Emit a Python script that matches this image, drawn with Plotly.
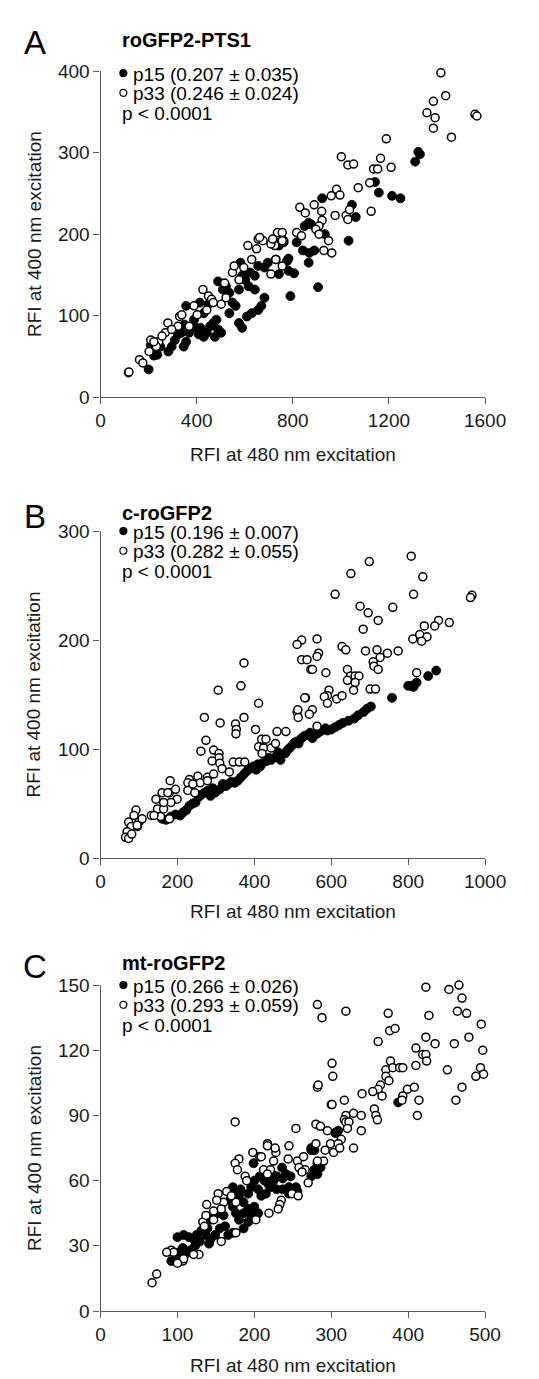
import plotly.graph_objects as go

W, H = 539, 1379

# ---------------- Panel A: roGFP2-PTS1 ----------------
A_p15 = [(1322,301),(1329,298),(1309,289),(1142,264),(1158,251),(1213,247),(1248,244),(922,244),(1046,236),(1062,221),
         (1032,192),(849,210),(866,214),(876,212),(933,200),(816,190),(842,180),(869,177),(889,180),(782,170),(736,190),
         (866,165),(905,135),(790,124),(805,152),
         (200,34),(222,51),(236,52),(209,64),(249,62),(282,56),(296,62),(309,70),(346,62),(356,68),(336,79),(349,89),
         (356,112),(389,95),(409,77),(416,85),(429,74),(442,79),(456,87),(469,91),(482,95),(489,83),(502,79),(476,74),
         (413,116),(429,103),(449,114),(489,142),(509,132),(522,136),(536,128),(549,116),(562,112),(536,103),(576,132),
         (589,149),(582,165),(602,144),(622,153),(642,149),(656,161),(616,136),(642,132),(682,122),(576,91),(589,85),
         (609,99),(629,103),(656,107),(669,112),(682,159),(696,165),(742,186),(762,190),(776,167),(782,155),(742,151),
         (322,77),(369,79),(396,85)]
A_p33 = [(1416,398),(1436,370),(1385,363),(1358,349),(1392,343),(1385,330),(1460,319),(1558,347),(1566,345),(1189,317),
         (1002,295),(1029,285),(1053,286),(1165,293),(1209,282),(1136,280),(1153,280),(1120,263),(1072,257),(982,255),
         (996,248),(960,247),(1126,228),(829,233),(852,226),(889,236),(920,228),(976,223),(1022,223),(1036,230),
         (1029,218),(922,217),(909,210),(896,206),(909,200),(949,192),(962,177),(929,180),(816,202),(836,198),(736,202),
         (756,202),(762,192),(725,186),(729,169),
         (116,30),(118,31),(162,46),(176,42),(202,56),(209,70),(242,68),(232,62),(280,91),(269,79),(329,99),(338,101),
         (369,87),(426,132),(449,124),(462,120),(442,107),(502,114),(522,122),(516,140),(549,153),(556,161),(576,144),
         (596,159),(613,186),(629,169),(649,182),(656,194),(676,192),(662,196),(709,188),(716,194),(756,192),(729,169),
         (709,151),(756,161),(322,87),(296,83),(256,75),(222,68),(389,112),(402,101),(469,116)]

# ---------------- Panel B: c-roGFP2 ----------------
B_p15 = [(160,36),(170,35),(183,38),(195,40),(207,39),(215,42),(223,44),(231,48),(240,50),(247,51),(255,56),(262,58),
         (270,60),(280,62),(286,57),(292,64),(298,60),(310,63),(318,68),(326,66),(333,68),(340,70),(349,69),(357,71),
         (365,74),(373,77),(381,80),(390,82),(397,84),(405,81),(409,86),(415,84),(421,87),(432,89),(438,92),(444,90),
         (456,93),(462,97),(468,95),(468,90),(480,96),(486,99),(492,101),(500,104),(505,106),(511,107),(515,105),
         (523,110),(530,112),(539,113),(545,115),(551,110),(563,114),(570,116),(575,117),(585,119),(590,117),(600,118),
         (610,120),(620,122),(630,124),(645,126),(660,128),(670,131),(684,134),(693,137),(703,139),(758,147),(800,158),
         (808,158),(814,157),(822,161),(852,167),(873,172)]
B_p33 = [(808,277),(699,272),(651,261),(838,258),(814,242),(610,242),(966,241),(962,239),(675,231),(696,225),(760,230),
         (722,218),(683,210),(842,213),(879,218),(869,213),(907,216),(812,201),(830,205),(849,203),(835,199),(523,200),
         (511,196),(563,201),(628,194),(638,191),(689,190),(719,191),(746,188),(774,190),(523,182),(537,182),(567,188),
         (563,185),(547,173),(551,173),(586,170),(642,173),(727,184),(709,180),(711,176),(722,173),(650,167),(662,167),
         (672,167),(642,163),(662,161),(658,154),(701,155),(715,155),(822,170),(594,154),(590,149),(582,148),(590,142),
         (614,146),(628,149),(533,147),(551,136),(543,132),(511,134),
         (373,179),(365,158),(306,154),(411,142),(270,129),(311,124),(351,123),(353,118),(352,114),(373,129),(403,118),
         (459,116),(482,116),(274,108),(261,98),(294,99),(308,96),(308,92),(290,89),(310,87),(316,82),(345,88),(361,88),
         (375,88),(335,79),(419,109),(430,109),(411,102),(424,101),(420,96),(444,101),(455,105),(531,147),(513,136),
         (514,129),(563,121),(278,74),(294,77),(253,75),(231,72),(227,69),(259,69),(278,71),(181,71),(179,60),(160,60),
         (175,60),(195,63),(199,54),(183,51),(227,62),(245,60),(240,68),(144,54),(148,45),(164,45),(156,38),(179,36),
         (164,51),(132,39),(139,39),(92,44),(87,39),(73,33),(100,33),(108,36),(80,29),(69,24),(65,19),(73,18),(81,22),
         (96,29),(95,30)]

# ---------------- Panel C: mt-roGFP2 ----------------
C_p15 = [(98,23),(102,27),(107,29),(100,34),(108,35),(115,34),(121,33),(125,35),(131,37),(129,32),(123,30),(117,28),
         (110,26),(139,38),(143,42),(147,44),(153,45),(160,44),(162,39),(155,38),(149,35),(143,33),(137,35),(141,31),
         (166,35),(172,36),(186,38),(180,42),(176,45),(172,48),(168,51),(172,56),(180,53),(186,50),(192,54),(196,57),
         (200,60),(207,62),(213,60),(219,58),(225,60),(229,62),(223,63),(215,62),(192,47),(200,48),(205,45),(196,44),
         (192,41),(186,45),(209,53),(205,56),(215,54),(221,57),(199,68),(236,66),(241,63),(247,62),(237,61),(229,56),
         (237,56),(245,57),(254,57),(256,55),(245,54),(274,74),(278,74),(282,68),(286,66),(278,65),(274,62),(282,63),
         (305,82),(309,83),(172,57),(182,56),(387,96),(306,82),(274,75),(92,23)]
C_p33 = [(282,103),(300,95),(175,87),(254,84),(280,86),(286,85),(295,83),(217,77),(245,76),(198,73),(207,71),(209,71),
         (228,73),(225,69),(180,70),(175,68),(178,65),(244,70),(256,69),(264,71),(258,66),(266,65),(262,64),(212,65),
         (221,65),(217,63),(188,62),(190,60),(299,77),(292,74),(303,73),(290,69),(282,69),(270,59),(249,54),(257,53),
         (164,55),(153,54),(160,50),(151,51),(138,49),(147,46),(157,47),(176,50),(170,53),(235,51),(233,49),(231,47),
         (219,45),(133,41),(135,39),(202,42),(176,36),(157,32),(128,26),(92,28),(95,27),(107,23),(108,24),(137,44),
         (147,42),
         (423,149),(453,148),(466,150),(470,144),(508,144),(464,138),(476,137),(427,136),(495,132),(374,137),(376,129),
         (383,130),(361,124),(282,141),(288,135),(319,138),(423,126),(435,123),(410,121),(460,123),(479,126),(497,120),
         (419,118),(423,118),(424,115),(410,113),(377,115),(371,111),(380,112),(389,112),(393,112),(451,111),(494,112),
         (498,109),(488,108),(518,109),(301,114),(302,108),(283,104),(371,108),(375,106),(364,104),(361,102),(366,99),
         (354,101),(340,100),(399,102),(408,103),(393,99),(392,97),(414,97),(470,103),(462,97),(317,97),(301,95),
         (412,90),(319,90),(329,91),(339,90),(317,88),(319,87),(323,87),(321,84),(339,83),(356,93),(358,90),(360,88),
         (313,79),(309,77),(217,76),(227,75),(280,77),(311,75),(329,75),
         (67,13),(73,17),(86,27),(100,22),(121,26)]

panel_letters = ["A", "B", "C"]
panel_titles = ["roGFP2-PTS1", "c-roGFP2", "mt-roGFP2"]
p15_labels = ["p15 (0.207 ± 0.035)", "p15 (0.196 ± 0.007)", "p15 (0.266 ± 0.026)"]
p33_labels = ["p33 (0.246 ± 0.024)", "p33 (0.282 ± 0.055)", "p33 (0.293 ± 0.059)"]
p_value = "p < 0.0001"
x_ranges = [1600, 1000, 500]
x_dticks = [400, 200, 100]
y_ranges = [400, 300, 150]
y_dticks = [100, 100, 30]
x_title = "RFI at 480 nm excitation"
y_title = "RFI at 400 nm excitation"

# layout geometry (pixels from top/left)
X_LEFT, X_RIGHT = 92, 496
PANEL_TOP = [54, 521, 982]
PANEL_BOT = [385, 853, 1313]
TITLE_Y = [22, 503, 960]
LEG_Y0 = [57, 522, 983]
LEG_DY = 20
XTITLE_Y = [443, 907, 1368]

FONT = "Liberation Sans, Arial, sans-serif"
AXC = "#5a5a5a"

def px(x):
    return x / W

def py(y):
    return 1 - y / H

fig = go.Figure()
data_sets = [(A_p15, A_p33), (B_p15, B_p33), (C_p15, C_p33)]
shapes = []
annotations = []
for i, (filled, hollow) in enumerate(data_sets):
    xa = "x" if i == 0 else f"x{i+1}"
    ya = "y" if i == 0 else f"y{i+1}"
    fig.add_trace(go.Scatter(x=[p[0] for p in filled], y=[p[1] for p in filled], mode="markers",
                             xaxis=xa, yaxis=ya, showlegend=False, cliponaxis=False,
                             marker=dict(size=9, color="black", line=dict(width=0.8, color="black"))))
    fig.add_trace(go.Scatter(x=[p[0] for p in hollow], y=[p[1] for p in hollow], mode="markers",
                             xaxis=xa, yaxis=ya, showlegend=False, cliponaxis=False,
                             marker=dict(size=8, color="white", line=dict(width=1.5, color="black"))))
    axis_common = dict(showline=True, linecolor=AXC, linewidth=1.3, ticks="outside", ticklen=6,
                       tickcolor=AXC, tickwidth=1.3, showgrid=False, zeroline=False,
                       tickfont=dict(family=FONT, size=19, color="#1a1a1a"))
    key_x = "xaxis" if i == 0 else f"xaxis{i+1}"
    key_y = "yaxis" if i == 0 else f"yaxis{i+1}"
    fig.update_layout({
        key_x: dict(domain=[px(X_LEFT), px(X_RIGHT)], range=[0, x_ranges[i]], dtick=x_dticks[i],
                    anchor=ya, **axis_common),
        key_y: dict(domain=[py(PANEL_BOT[i]), py(PANEL_TOP[i])], range=[0, y_ranges[i]], dtick=y_dticks[i],
                    anchor=xa, **axis_common),
    })
    # panel letter
    annotations.append(dict(text=panel_letters[i], x=px(23), y=py(TITLE_Y[i] + 3), xref="paper", yref="paper",
                            showarrow=False, xanchor="center", yanchor="middle",
                            font=dict(family=FONT, size=33, color="black")))
    # panel title
    annotations.append(dict(text=f"<b>{panel_titles[i]}</b>", x=px(112), y=py(TITLE_Y[i]), xref="paper",
                            yref="paper", showarrow=False, xanchor="left", yanchor="middle",
                            font=dict(family=FONT, size=20, color="black")))
    # legend lines
    for j, (lab, fill) in enumerate([(p15_labels[i], "black"), (p33_labels[i], "white")]):
        yy = LEG_Y0[i] + j * LEG_DY
        annotations.append(dict(text=lab, x=px(124), y=py(yy), xref="paper", yref="paper", showarrow=False,
                                xanchor="left", yanchor="middle", font=dict(family=FONT, size=19, color="black")))
        shapes.append(dict(type="circle", xref="paper", yref="paper", xsizemode="pixel", ysizemode="pixel",
                           xanchor=px(116), yanchor=py(yy - 1), x0=-3.5, x1=3.5, y0=-3.5, y1=3.5,
                           fillcolor=fill, line=dict(color="black", width=1.2)))
    annotations.append(dict(text=p_value, x=px(112), y=py(LEG_Y0[i] + 2 * LEG_DY), xref="paper", yref="paper",
                            showarrow=False, xanchor="left", yanchor="middle",
                            font=dict(family=FONT, size=19, color="black")))
    # axis titles
    annotations.append(dict(text=x_title, x=px((X_LEFT + X_RIGHT) / 2), y=py(XTITLE_Y[i]), xref="paper",
                            yref="paper", showarrow=False, xanchor="center", yanchor="middle",
                            font=dict(family=FONT, size=19, color="#1a1a1a")))
    annotations.append(dict(text=y_title, x=px(22), y=py((PANEL_TOP[i] + PANEL_BOT[i]) / 2), xref="paper",
                            yref="paper", showarrow=False, xanchor="center", yanchor="middle", textangle=-90,
                            font=dict(family=FONT, size=19, color="#1a1a1a")))

fig.update_layout(width=W, height=H, margin=dict(l=0, r=0, t=0, b=0), plot_bgcolor="white",
                  paper_bgcolor="white", annotations=annotations, shapes=shapes, showlegend=False)
fig.write_html("out.html")
